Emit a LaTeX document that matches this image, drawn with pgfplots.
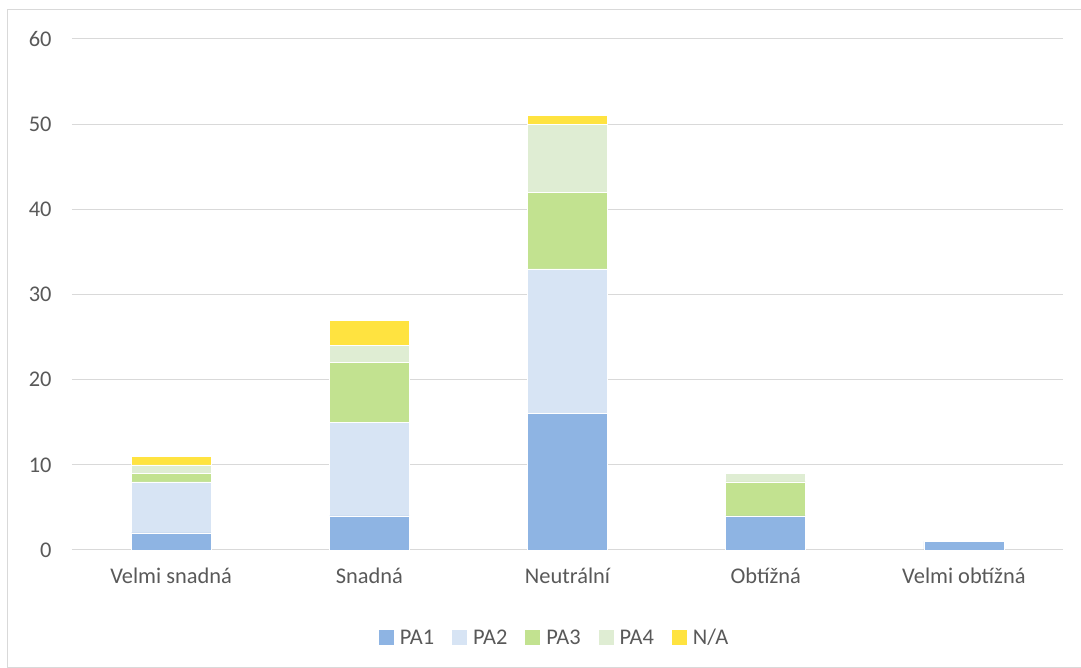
\documentclass[border=0pt]{standalone}
\usepackage{pgfplots}
\pgfplotsset{compat=1.18}
\usepackage{fontspec}
\setmainfont{Carlito}
\definecolor{txt}{HTML}{595959}
\definecolor{gridc}{HTML}{D9D9D9}
\definecolor{pa1}{HTML}{8EB4E3}
\definecolor{pa2}{HTML}{D7E4F4}
\definecolor{pa3}{HTML}{C2E290}
\definecolor{pa4}{HTML}{DFEDD3}
\definecolor{na}{HTML}{FFE340}
\begin{document}
\begin{tikzpicture}[x=1bp,y=1bp]
\begin{axis}[
  at={(0,0)}, anchor=south west,
  scale only axis, width=991bp, height=511bp,
  ybar stacked, bar width=80bp,
  xmin=-0.5, xmax=4.5, ymin=0, ymax=60,
  ytick={0,10,...,60},
  xtick={0,1,2,3,4},
  xticklabels={Velmi snadná,Snadná,Neutrální,Obtížná,Velmi obtížná},
  axis line style={draw=none},
  ymajorgrids, grid style={gridc, line width=1bp},
  major tick length=0pt,
  tick label style={font=\fontsize{22.5}{26}\selectfont, text=txt},
  /pgf/number format/assume math mode=true,
  yticklabel style={xshift=-17bp},
  xticklabel style={yshift=-14bp},
  every axis plot/.append style={draw=white, line width=0.6bp},
  legend style={at={(0.487,-0.172)}, anchor=center, draw=none, fill=none,
    legend columns=5, font=\fontsize{22.5}{26}\selectfont, text=txt,
    /tikz/every odd column/.append style={column sep=4bp},
    /tikz/every even column/.append style={column sep=16bp}},
  legend image code/.code={\fill[#1, draw=none] (0bp,-7.5bp) rectangle (15bp,7.5bp);},
]
\addplot[fill=pa1] coordinates {(0,2) (1,4) (2,16) (3,4) (4,1)};
\addplot[fill=pa2] coordinates {(0,6) (1,11) (2,17) (3,0) (4,0)};
\addplot[fill=pa3] coordinates {(0,1) (1,7) (2,9) (3,4) (4,0)};
\addplot[fill=pa4] coordinates {(0,1) (1,2) (2,8) (3,1) (4,0)};
\addplot[fill=na] coordinates {(0,1) (1,3) (2,1) (3,0) (4,0)};
\legend{PA1,PA2,PA3,PA4,N/A}
\end{axis}
\draw[gridc, line width=1bp] (-64,-118) rectangle (1009,540);
\pgfresetboundingbox
\useasboundingbox (-72,-118) rectangle (1009,550);
\end{tikzpicture}
\end{document}
